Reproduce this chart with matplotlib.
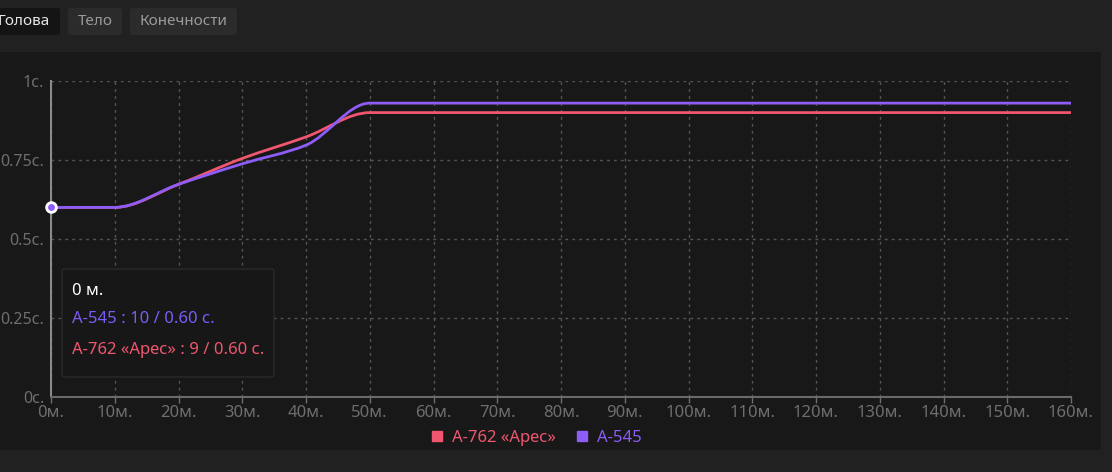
import numpy as np
import matplotlib.pyplot as plt
from matplotlib.path import Path
from matplotlib.patches import PathPatch, FancyBboxPatch
from matplotlib.lines import Line2D

plt.rcParams['font.family'] = ['Noto Sans', 'DejaVu Sans']

# distance (m) and time (s)
distance = [0, 10, 20, 30, 40, 50, 160]
ares_time = [0.60, 0.60, 0.673, 0.755, 0.823, 0.90, 0.90]
a545_time = [0.60, 0.60, 0.673, 0.738, 0.797, 0.93, 0.93]
series_names = ['А-762 «Арес»', 'А-545']
x_ticks = list(range(0, 161, 10))
y_ticks = [0, 0.25, 0.5, 0.75, 1]
tabs = ['Голова', 'Тело', 'Конечности']

RED = '#f0566f'
PURPLE = '#8e5cf6'


def smooth_path(x, y):
    # monotone cubic (Fritsch-Carlson) tangents turned into bezier segments
    x = np.asarray(x, float)
    y = np.asarray(y, float)
    h = np.diff(x)
    d = np.diff(y) / h
    m = np.zeros_like(y)
    m[0], m[-1] = d[0], d[-1]
    for i in range(1, len(x) - 1):
        if d[i - 1] * d[i] <= 0:
            m[i] = 0
        else:
            w1 = 2 * h[i] + h[i - 1]
            w2 = h[i] + 2 * h[i - 1]
            m[i] = (w1 + w2) / (w1 / d[i - 1] + w2 / d[i])
    verts = [(x[0], y[0])]
    codes = [Path.MOVETO]
    for i in range(len(x) - 1):
        verts += [(x[i] + h[i] / 3, y[i] + m[i] * h[i] / 3),
                  (x[i + 1] - h[i] / 3, y[i + 1] - m[i + 1] * h[i] / 3),
                  (x[i + 1], y[i + 1])]
        codes += [Path.CURVE4] * 3
    return Path(verts, codes)


fig = plt.figure(figsize=(11.12, 4.72), dpi=100)
fig.patch.set_facecolor('#212121')
W, H = 1112, 472


def fx(px):
    return px / W


def fy(py):
    return 1 - py / H


# card panel
fig.patches.append(FancyBboxPatch((fx(-10), fy(450)), fx(1111), fy(52) - fy(450),
                                  boxstyle='round,pad=0,rounding_size=0.004',
                                  transform=fig.transFigure, facecolor='#181818',
                                  edgecolor='none', zorder=-2))

# tabs
tab_boxes = [(-10, 70, '#141414', '#e6e6e6'), (68, 54, '#2b2b2b', '#9a9a9a'),
             (130, 107, '#2b2b2b', '#9a9a9a')]
for name, (x0, w, bg, fg) in zip(tabs, tab_boxes):
    fig.patches.append(FancyBboxPatch((fx(x0), fy(35)), fx(w), fy(8) - fy(35),
                                      boxstyle='round,pad=0,rounding_size=0.004',
                                      transform=fig.transFigure, facecolor=bg,
                                      edgecolor='none', zorder=-1))
    fig.text(fx(x0 + w / 2) if x0 >= 0 else fx(24), fy(21.5), name, color=fg,
             fontsize=11, ha='center', va='center')

ax = fig.add_axes([fx(51), fy(397), fx(1071) - fx(51), fy(81) - fy(397)])
ax.set_facecolor('#181818')
ax.set_xlim(0, 160)
ax.set_ylim(0, 1)

for s in ['top', 'right']:
    ax.spines[s].set_visible(False)
ax.spines['left'].set_color('#8a8a8a')
ax.spines['left'].set_linewidth(1.5)
ax.spines['bottom'].set_color('#6a6a6a')
ax.spines['bottom'].set_linestyle((0, (2, 1)))
ax.spines['bottom'].set_linewidth(1.5)

ax.set_xticks(x_ticks)
ax.set_xticklabels([f'{t}м.' for t in x_ticks])
ax.set_yticks(y_ticks)
ax.set_yticklabels([f'{t:g}с.' for t in y_ticks])
ax.tick_params(colors='#6e6e6e', labelsize=12, length=4, width=1, pad=1)
ax.tick_params(axis='x', pad=2)
ax.tick_params(axis='y', length=0, pad=5, labelsize=11.5)
ax.grid(True, color='#555555', linestyle=(0, (2, 3)), linewidth=1)
ax.set_axisbelow(True)

for vals, col in [(ares_time, RED), (a545_time, PURPLE)]:
    ax.add_patch(PathPatch(smooth_path(distance, vals), facecolor='none',
                           edgecolor=col, linewidth=2, zorder=3, capstyle='round'))

ax.plot([distance[0]], [a545_time[0]], 'o', color=PURPLE, markersize=7,
        markeredgecolor='white', markeredgewidth=2, zorder=5, clip_on=False)

# tooltip
fig.patches.append(FancyBboxPatch((fx(62), fy(377)), fx(212), fy(269) - fy(377),
                                  boxstyle='round,pad=0,rounding_size=0.004',
                                  transform=fig.transFigure, facecolor='#171717',
                                  edgecolor='#2a2a2a', linewidth=1, zorder=6))
fig.text(fx(72), fy(291), '0 м.', color='white', fontsize=12, va='center', zorder=7)
fig.text(fx(72), fy(319), f'{series_names[1]} : 10 / {a545_time[0]:.2f} с.',
         color='#7b5cf5', fontsize=12, va='center', zorder=7)
fig.text(fx(72), fy(350), f'{series_names[0]} : 9 / {ares_time[0]:.2f} с.',
         color=RED, fontsize=12, va='center', zorder=7)

handles = [Line2D([], [], marker='s', linestyle='none', color=c, markersize=7)
           for c in [RED, PURPLE]]
leg = fig.legend(handles, series_names, loc='center', bbox_to_anchor=(fx(531), fy(438)),
                 ncol=2, frameon=False, fontsize=12, handletextpad=-0.1,
                 columnspacing=0.6, labelcolor=[RED, PURPLE])

fig.savefig('out.png', dpi=100, facecolor=fig.get_facecolor())
